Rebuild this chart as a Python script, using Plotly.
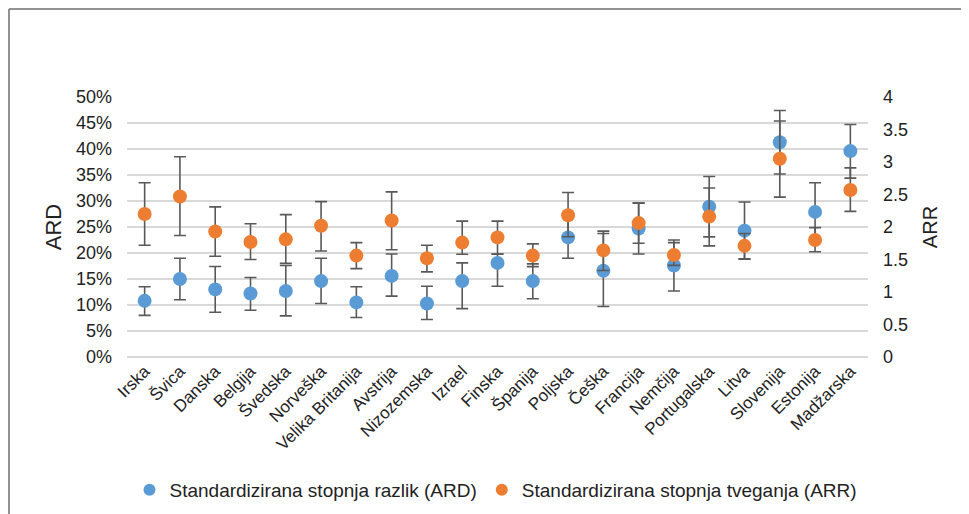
import plotly.graph_objects as go

countries = ["Irska", "Švica", "Danska", "Belgija", "Švedska", "Norveška", "Velika Britanija",
             "Avstrija", "Nizozemska", "Izrael", "Finska", "Španija", "Poljska", "Češka",
             "Francija", "Nemčija", "Portugalska", "Litva", "Slovenija", "Estonija", "Madžarska"]

# Standardizirana stopnja razlik (ARD), in %
ard = [10.8, 15.0, 13.0, 12.2, 12.7, 14.6, 10.5, 15.6, 10.3, 14.6, 18.1, 14.6, 23.0, 16.6,
       24.7, 17.6, 28.9, 24.3, 41.3, 27.9, 39.6]
ard_low = [8.0, 11.0, 8.6, 9.0, 7.9, 10.3, 7.6, 11.7, 7.2, 9.3, 13.6, 11.2, 19.0, 9.7,
           19.8, 12.7, 23.1, 18.8, 35.2, 22.3, 34.4]
ard_high = [13.5, 19.0, 17.4, 15.3, 17.6, 19.0, 13.5, 19.8, 13.6, 18.1, 19.8, 17.9, 27.0, 24.2,
            29.6, 22.5, 34.7, 29.8, 47.4, 33.5, 44.7]

# Standardizirana stopnja tveganja (ARR)
arr = [2.20, 2.47, 1.93, 1.77, 1.81, 2.02, 1.56, 2.10, 1.52, 1.76, 1.84, 1.56, 2.18, 1.64,
       2.06, 1.57, 2.16, 1.71, 3.05, 1.80, 2.57]
arr_low = [1.72, 1.87, 1.55, 1.50, 1.44, 1.63, 1.36, 1.65, 1.31, 1.58, 1.58, 1.39, 1.85, 1.33,
           1.75, 1.41, 1.71, 1.51, 2.46, 1.62, 2.24]
arr_high = [2.68, 3.08, 2.31, 2.05, 2.19, 2.39, 1.76, 2.54, 1.72, 2.09, 2.09, 1.74, 2.53, 1.90,
            2.37, 1.76, 2.60, 1.90, 3.63, 1.99, 2.91]

left_ticks = [0, 5, 10, 15, 20, 25, 30, 35, 40, 45, 50]
left_tick_text = ["0%", "5%", "10%", "15%", "20%", "25%", "30%", "35%", "40%", "45%", "50%"]
right_ticks = [0, 0.5, 1, 1.5, 2, 2.5, 3, 3.5, 4]
right_tick_text = ["0", "0.5", "1", "1.5", "2", "2.5", "3", "3.5", "4"]

BLUE = "#5B9BD5"
ORANGE = "#ED7D31"
ERR = "#595959"
FONT = "Liberation Sans"
TXT = "#222222"

fig = go.Figure()
fig.add_trace(go.Scatter(
    x=countries, y=ard, mode="markers", name="Standardizirana stopnja razlik (ARD)",
    marker=dict(color=BLUE, size=14),
    error_y=dict(type="data", symmetric=False,
                 array=[h - v for h, v in zip(ard_high, ard)],
                 arrayminus=[v - l for l, v in zip(ard_low, ard)],
                 color=ERR, thickness=1.6, width=6),
    yaxis="y"))
fig.add_trace(go.Scatter(
    x=countries, y=arr, mode="markers", name="Standardizirana stopnja tveganja (ARR)",
    marker=dict(color=ORANGE, size=14),
    error_y=dict(type="data", symmetric=False,
                 array=[h - v for h, v in zip(arr_high, arr)],
                 arrayminus=[v - l for l, v in zip(arr_low, arr)],
                 color=ERR, thickness=1.6, width=6),
    yaxis="y2"))

# page has an 8px body margin; figure coordinates = page coordinates - 8
OFF = 8
W, H = 969 - OFF, 514 - OFF
L, R, T, B = 127 - OFF, 101, 97 - OFF, 157
pw, ph = W - L - R, H - T - B

def px_x(x):
    return (x - OFF - L) / pw

def px_y(y):
    return (H - B - (y - OFF)) / ph

fig.update_layout(
    width=W, height=H,
    margin=dict(l=L, r=R, t=T, b=B, autoexpand=False),
    paper_bgcolor="white", plot_bgcolor="white",
    font=dict(family=FONT, color=TXT, size=18),
    showlegend=True,
    legend=dict(orientation="h", x=px_x(496), xanchor="center", y=px_y(490), yanchor="middle",
                font=dict(size=19, family=FONT, color=TXT), itemwidth=30,
                itemsizing="constant", bgcolor="rgba(0,0,0,0)"),
    xaxis=dict(type="category", range=[-0.5, len(countries) - 0.5], showgrid=False,
               showline=False, ticks="", tickangle=-45,
               tickfont=dict(size=17, family=FONT, color=TXT), fixedrange=True),
    yaxis=dict(range=[0, 50], tickvals=left_ticks, ticktext=left_tick_text, showgrid=True,
               gridcolor="#D9D9D9", gridwidth=1.5, zeroline=True, zerolinecolor="#D9D9D9",
               zerolinewidth=1.5, showline=False, ticks="", ticklabelstandoff=14,
               tickfont=dict(size=18, family=FONT, color=TXT),
               title=dict(text="ARD", font=dict(size=22, family=FONT, color=TXT), standoff=8)),
    yaxis2=dict(range=[0, 4], tickvals=right_ticks, ticktext=right_tick_text, overlaying="y",
                side="right", showgrid=False, zeroline=False, showline=False, ticks="",
                ticklabelstandoff=14, tickfont=dict(size=18, family=FONT, color=TXT),
                title=dict(text="ARR", font=dict(size=20, family=FONT, color=TXT), standoff=15)),
    shapes=[
        dict(type="line", xref="paper", yref="paper", x0=px_x(9), x1=px_x(990),
             y0=px_y(9), y1=px_y(9), line=dict(color="#6E6E6E", width=1.5)),
        dict(type="line", xref="paper", yref="paper", x0=px_x(9), x1=px_x(9),
             y0=px_y(9), y1=px_y(530), line=dict(color="#6E6E6E", width=1.5)),
    ],
)

fig.write_html("out.html")
